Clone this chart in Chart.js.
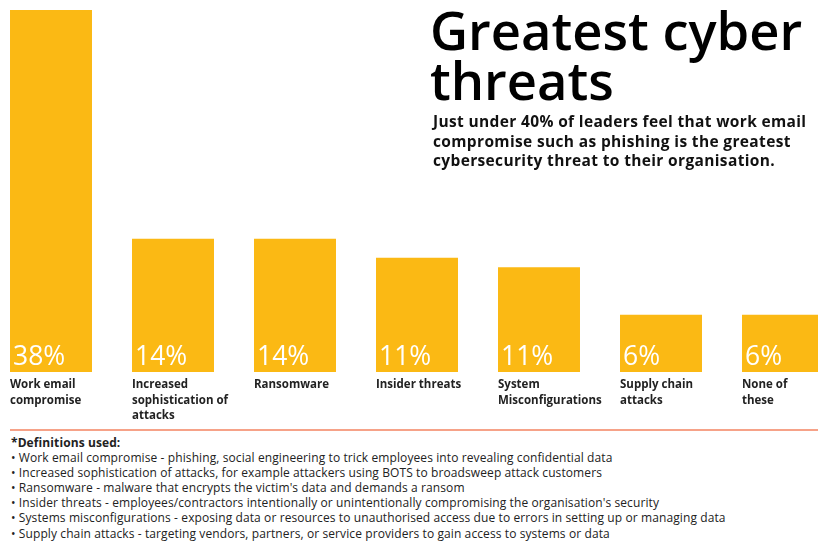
<!DOCTYPE html>
<html>
<head>
<meta charset="utf-8">
<script src="https://cdn.jsdelivr.net/npm/chart.js@4.4.1/dist/chart.umd.min.js"></script>
<style>
  html, body { margin: 0; padding: 0; background: #fff; }
  body { width: 818px; height: 543px; position: relative; overflow: hidden; font-family: "Open Sans", sans-serif; color: #111; }
  #wrap { position: absolute; left: -10px; top: 0; width: 854px; height: 420px; }
  .title { position: absolute; left: 430px; top: 5px; font-size: 52.5px; font-weight: 600; line-height: 50px; color: #000; white-space: nowrap; }
  .sub { position: absolute; left: 433px; top: 112px; font-size: 15.5px; font-weight: 700; line-height: 19.5px; letter-spacing: 0.35px; color: #111; white-space: nowrap; }
  .rule { position: absolute; left: 10px; top: 429px; width: 808px; height: 2px; background: #f6a288; }
  .notes { position: absolute; left: 11px; top: 435px; font-size: 12px; line-height: 15.1px; letter-spacing: 0.1px; color: #222; white-space: nowrap; }
  .notes b { font-weight: 700; }
</style>
</head>
<body>
<div id="wrap"><canvas id="threatChart" width="854" height="420"></canvas></div>
<div class="title">Greatest cyber<br>threats</div>
<div class="sub">Just under 40% of leaders feel that work email<br>compromise such as phishing is the greatest<br>cybersecurity threat to their organisation.</div>
<div class="rule"></div>
<div class="notes">
  <b>*Definitions used:</b><br>
  • Work email compromise - phishing, social engineering to trick employees into revealing confidential data<br>
  • Increased sophistication of attacks, for example attackers using BOTS to broadsweep attack customers<br>
  • Ransomware - malware that encrypts the victim's data and demands a ransom<br>
  • Insider threats - employees/contractors intentionally or unintentionally compromising the organisation's security<br>
  • Systems misconfigurations - exposing data or resources to unauthorised access due to errors in setting up or managing data<br>
  • Supply chain attacks - targeting vendors, partners, or service providers to gain access to systems or data
</div>
<script>
const threats = [
  ['Work email', 'compromise'],
  ['Increased', 'sophistication of', 'attacks'],
  ['Ransomware'],
  ['Insider threats'],
  ['System', 'Misconfigurations'],
  ['Supply chain', 'attacks'],
  ['None of', 'these']
];
const shares = [38, 14, 14, 12, 11, 6, 6];
const shareLabels = ['38%', '14%', '14%', '11%', '11%', '6%', '6%'];

const barText = {
  id: 'barText',
  afterDatasetsDraw(chart) {
    const ctx = chart.ctx;
    const meta = chart.getDatasetMeta(0);
    ctx.save();
    ctx.fillStyle = '#ffffff';
    ctx.font = '400 26.5px "Open Sans"';
    ctx.textAlign = 'left';
    ctx.textBaseline = 'alphabetic';
    meta.data.forEach((bar, i) => {
      const { x, width, base } = bar.getProps(['x', 'width', 'base'], true);
      ctx.fillText(shareLabels[i], x - width / 2 + 3, base - 7);
    });
    ctx.restore();
  }
};

new Chart(document.getElementById('threatChart'), {
  type: 'bar',
  data: {
    labels: threats,
    datasets: [{
      data: shares,
      backgroundColor: '#fbb914',
      borderWidth: 0,
      categoryPercentage: 1,
      barPercentage: 0.672
    }]
  },
  options: {
    responsive: false,
    animation: false,
    layout: { padding: { top: 10, left: 0, right: 0, bottom: 0 } },
    plugins: { legend: { display: false }, tooltip: { enabled: false } },
    scales: {
      x: {
        grid: { display: false, drawTicks: false },
        border: { display: false },
        afterFit: (scale) => { scale.height = 48; },
        ticks: {
          autoSkip: false,
          maxRotation: 0,
          align: 'start',
          labelOffset: -41,
          padding: 5,
          color: '#222',
          font: { family: 'Open Sans', size: 11.5, weight: '700', lineHeight: 1.36 }
        }
      },
      y: { display: false, min: 0, max: 38 }
    }
  },
  plugins: [barText]
});
</script>
</body>
</html>
